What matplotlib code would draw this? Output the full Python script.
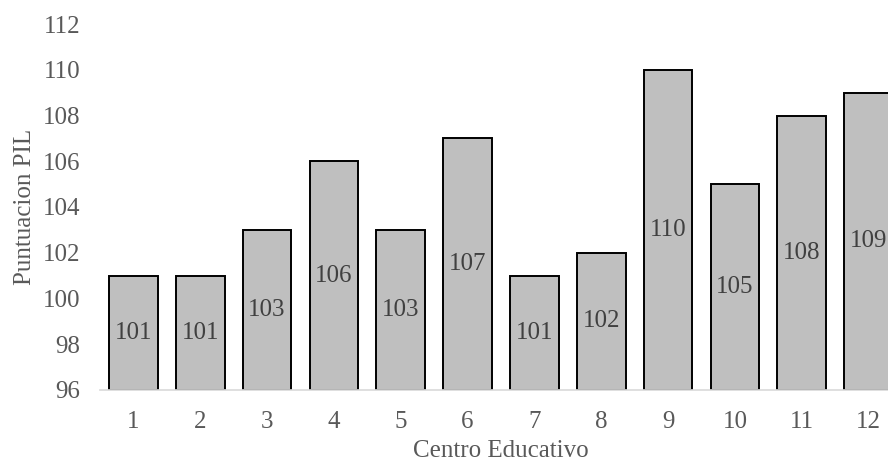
import matplotlib.pyplot as plt

# datos del gráfico
centros = ["1", "2", "3", "4", "5", "6", "7", "8", "9", "10", "11", "12"]
puntuacion = [101, 101, 103, 106, 103, 107, 101, 102, 110, 105, 108, 109]
y_ticks = [96, 98, 100, 102, 104, 106, 108, 110, 112]

plt.rcParams["font.family"] = ["Liberation Serif", "DejaVu Serif"]

fig = plt.figure(figsize=(8.88, 4.68), dpi=100)
# el gráfico original está cortado a la derecha
ax = fig.add_axes([0.1126, 0.1667, 0.9032, 0.782])

x = list(range(len(centros)))
barras = ax.bar(x, [p - 96 for p in puntuacion], bottom=96, width=0.73,
                color="#bfbfbf", edgecolor="black", linewidth=1.4)
ax.bar_label(barras, labels=[str(p) for p in puntuacion], label_type="center",
             fontsize=18, color="#404040")

ax.set_xlim(-0.5, len(centros) - 0.5)
ax.set_ylim(96, 112)
ax.set_yticks(y_ticks)
ax.set_xticks(x)
ax.set_xticklabels(centros)
ax.tick_params(axis="both", length=0, labelsize=18, labelcolor="#595959")
ax.tick_params(axis="x", pad=15)
ax.tick_params(axis="y", pad=14)

for lado in ["top", "right", "left"]:
    ax.spines[lado].set_visible(False)
ax.spines["bottom"].set_color("#d9d9d9")
ax.spines["bottom"].set_linewidth(1.2)

ax.set_xlabel("Centro Educativo", fontsize=18, color="#595959", labelpad=5)
ax.set_ylabel("Puntuacion PIL", fontsize=18, color="#595959", labelpad=5)

fig.savefig("out.png", dpi=100)
